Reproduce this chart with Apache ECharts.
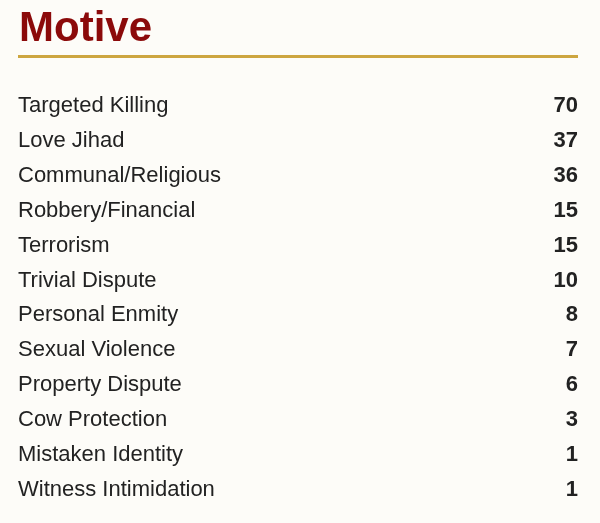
<!DOCTYPE html>
<html>
<head>
<meta charset="utf-8">
<script src="https://cdn.jsdelivr.net/npm/echarts@6/dist/echarts.min.js"></script>
<style>
  html, body { margin: 0; padding: 0; background: #fdfcf8; }
  #chart { width: 600px; height: 523px; }
</style>
</head>
<body>
<div id="chart"></div>
<script>
const motives = ["Targeted Killing", "Love Jihad", "Communal/Religious", "Robbery/Financial",
  "Terrorism", "Trivial Dispute", "Personal Enmity", "Sexual Violence",
  "Property Dispute", "Cow Protection", "Mistaken Identity", "Witness Intimidation"];
const counts = [70, 37, 36, 15, 15, 10, 8, 7, 6, 3, 1, 1];

const chart = echarts.init(document.getElementById("chart"));
chart.setOption({
  backgroundColor: "#fdfcf8",
  animation: false,
  title: {
    text: "Motive", left: 14, top: 3,
    textStyle: { fontFamily: "Liberation Sans", fontSize: 42, fontWeight: "bold", color: "#8b0a0a" }
  },
  graphic: [{
    type: "rect", shape: { x: 18, y: 55, width: 560, height: 3 },
    style: { fill: "#cda640" }
  }],
  grid: { left: 18, right: 22, top: 89, bottom: 16 },
  xAxis: { type: "value", show: false, max: 70 },
  yAxis: [{
    type: "category", data: motives, inverse: true,
    axisLine: { show: false }, axisTick: { show: false },
    axisLabel: { inside: true, align: "left", margin: 0, fontFamily: "Liberation Sans", fontSize: 22, color: "#222" }
  }, {
    type: "category", data: counts.map(String), inverse: true, position: "right",
    axisLine: { show: false }, axisTick: { show: false },
    axisLabel: { inside: true, align: "right", margin: 0, fontFamily: "Liberation Sans", fontSize: 22, fontWeight: "bold", color: "#222" }
  }],
  series: [{
    type: "bar", data: counts, itemStyle: { color: "rgba(0,0,0,0)" }, silent: true
  }]
});
</script>
</body>
</html>
